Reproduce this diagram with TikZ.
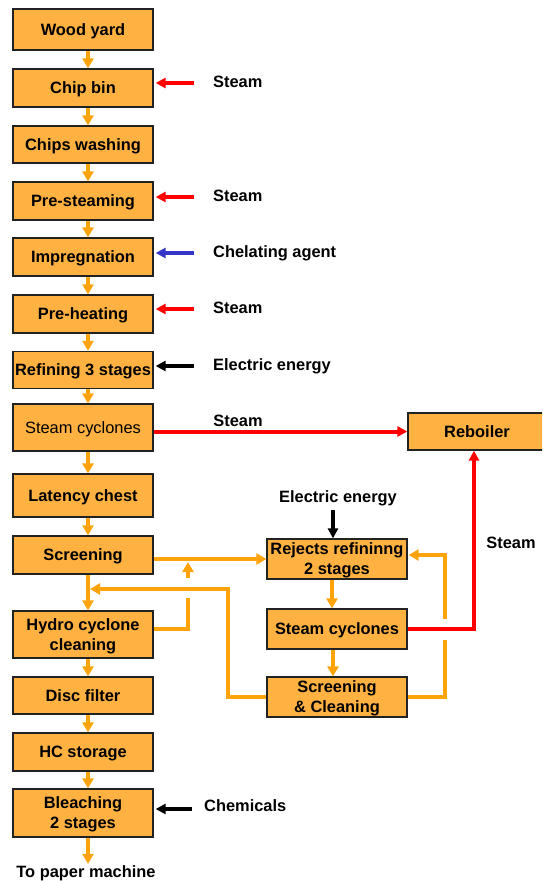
\documentclass[tikz,border=0pt]{standalone}
\usepackage{fontspec}
\setmainfont{Liberation Sans}
\usetikzlibrary{arrows.meta}
\definecolor{boxfill}{HTML}{FFB142}
\definecolor{flow}{HTML}{FFA30A}
\definecolor{steamred}{HTML}{FF0000}
\definecolor{agentblue}{HTML}{3535C8}
\definecolor{edge}{HTML}{222222}

\tikzset{
  unit/.style={draw=edge, line width=1.3pt, fill=boxfill, minimum width=140pt,
    inner sep=0pt, align=center, text height=11.8pt, text depth=0pt,
    font=\bfseries\fontsize{16.4}{20}\selectfont},
  twoline/.style={text height=31.8pt},
  lbl/.style={font=\bfseries\fontsize{16.4}{20}\selectfont, inner sep=0pt,
    text height=11.8pt, text depth=0pt},
  flowarrow/.style={draw=flow, line width=4pt, -{Triangle[length=10pt,width=11pt]}},
  flowline/.style={draw=flow, line width=4pt},
  feed/.style={line width=4pt, -{Triangle[length=10pt,width=10pt]}},
}

\begin{document}
\begin{tikzpicture}[x=1pt,y=-1pt]
\useasboundingbox (0,0) rectangle (542,881);
\clip (0,0) rectangle (542,881);

% main line
\node[unit, minimum height=41pt] (wood)    at (83,29.5)  {Wood yard};
\node[unit, minimum height=38pt] (chip)    at (83,88)    {Chip bin};
\node[unit, minimum height=37pt] (wash)    at (83,144.5) {Chips washing};
\node[unit, minimum height=38pt] (prest)   at (83,201)   {Pre-steaming};
\node[unit, minimum height=38pt] (impreg)  at (83,257)   {Impregnation};
\node[unit, minimum height=38pt] (preheat) at (83,314)   {Pre-heating};
\node[unit, minimum height=37pt] (refin)   at (83,370)   {Refining 3 stages};
\node[unit, minimum height=47pt, font=\fontsize{16.4}{20}\selectfont] (cyc) at (83,427.5) {Steam cyclones};
\node[unit, minimum height=43pt] (lat)     at (83,495.5) {Latency chest};
\node[unit, minimum height=38pt] (screen)  at (83,555)   {Screening};
\node[unit, twoline, minimum height=47pt] (hydro) at (83,634.5) {Hydro cyclone\\cleaning};
\node[unit, minimum height=37pt] (disc)    at (83,695.5) {Disc filter};
\node[unit, minimum height=38pt] (hc)      at (83,752)   {HC storage};
\node[unit, twoline, minimum height=48pt] (bleach) at (83,813) {Bleaching\\2 stages};
\node[lbl] (paper) at (86,872) {To paper machine};

% rejects line
\node[unit, twoline, minimum height=40pt] (rej) at (337,559) {Rejects refininng\\2 stages};
\node[unit, minimum height=40pt] (cyc2)  at (337,629) {Steam cyclones};
\node[unit, twoline, minimum height=40pt] (scl) at (337,697) {Screening\\\& Cleaning};
\node[unit, minimum height=37pt, minimum width=138pt] (reb) at (477,431.5) {Reboiler};

% main line flow
\foreach \a/\b in {wood/chip, chip/wash, wash/prest, prest/impreg, impreg/preheat,
                   preheat/refin, refin/cyc, cyc/lat, lat/screen, screen/hydro,
                   hydro/disc, disc/hc, hc/bleach}
  \draw[flowarrow] ([xshift=5pt]\a.south) -- ([xshift=5pt]\b.north);
\draw[flowarrow] ([xshift=5pt]bleach.south) -- ([xshift=2pt,yshift=2pt]paper.north);

% inputs on the right of the main line
\node[lbl, anchor=west] (st1) at (213,82)  {Steam};
\node[lbl, anchor=west] (st2) at (213,196) {Steam};
\node[lbl, anchor=west] (chel) at (213,252) {Chelating agent};
\node[lbl, anchor=west] (st3) at (213,308) {Steam};
\node[lbl, anchor=west] (el1) at (213,365) {Electric energy};
\node[lbl, anchor=west] (chem) at (204,806) {Chemicals};

\coordinate (f1) at (194,83);
\coordinate (f2) at (194,197);
\coordinate (f3) at (194,253);
\coordinate (f4) at (194,309);
\coordinate (f5) at (194,366);
\coordinate (f6) at (192,809);
\draw[feed, steamred]   (f1) -- ([xshift=2pt]chip.east |- f1);
\draw[feed, steamred]   (f2) -- ([xshift=2pt]prest.east |- f2);
\draw[feed, agentblue]  (f3) -- ([xshift=2pt]impreg.east |- f3);
\draw[feed, steamred]   (f4) -- ([xshift=2pt]preheat.east |- f4);
\draw[feed, black]      (f5) -- ([xshift=2pt]refin.east |- f5);
\draw[feed, black]      (f6) -- ([xshift=2pt]bleach.east |- f6);

% steam to the reboiler
\node[lbl] (st4) at (238,421) {Steam};
\draw[feed, steamred] (cyc.east |- reb.west) -- (reb.west);

% electric energy to the rejects refiner
\node[lbl] (el2) at (338,497) {Electric energy};
\coordinate (f7) at (333,510);
\draw[feed, black] (f7) -- (rej.north -| f7);

% rejects line flow
\draw[flowarrow] (screen.east |- rej.west) -- (rej.west);
\draw[flowline] (hydro.east |- cyc2.west) -- (188,629) -- (188,598);
\draw[flowarrow] (188,578) -- (188,562);
\draw[flowline] (scl.west) -- (228,697) -- (228,589);
\draw[flowarrow] (230,589) -- (90,589);
\draw[flowarrow] ([xshift=-5pt]rej.south) -- ([xshift=-5pt]cyc2.north);
\draw[flowarrow] ([xshift=-4pt]cyc2.south) -- ([xshift=-4pt]scl.north);
\draw[flowline] (scl.east) -- (445,697) -- (445,640);
\draw[flowarrow] (445,619) -- (445,555) -- ([yshift=4pt,xshift=1pt]rej.east);

% steam from the rejects cyclones
\draw[feed, steamred] (cyc2.east) -- (474,629) -- (reb.south -| 474,0);
\node[lbl] (st5) at (511,543) {Steam};
\end{tikzpicture}
\end{document}
